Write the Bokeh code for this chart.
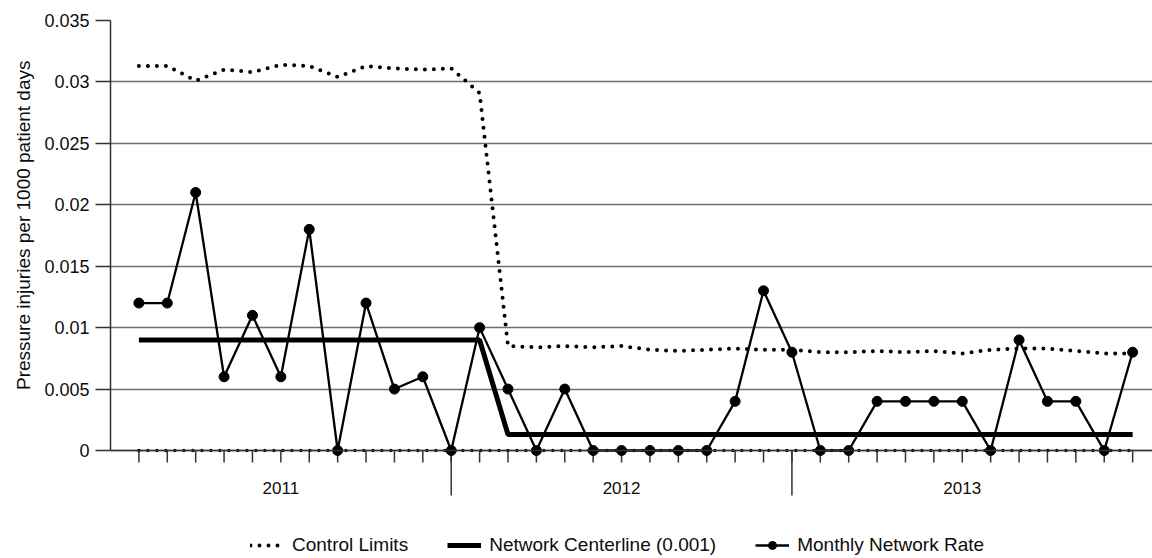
import math
from bokeh.plotting import figure
from bokeh.models import Range1d, FixedTicker, Legend, LegendItem, Span, Title
from bokeh.core.properties import value
from bokeh.embed import file_html
from bokeh.resources import INLINE

# ---- data ----
months = list(range(1, 37))
monthly_rate = [0.012, 0.012, 0.021, 0.006, 0.011, 0.006, 0.018, 0.0, 0.012, 0.005,
                0.006, 0.0, 0.010, 0.005, 0.0, 0.005, 0.0, 0.0, 0.0, 0.0,
                0.0, 0.004, 0.013, 0.008, 0.0, 0.0, 0.004, 0.004, 0.004, 0.004,
                0.0, 0.009, 0.004, 0.004, 0.0, 0.008]
centerline = [0.009, 0.009, 0.009, 0.009, 0.009, 0.009, 0.009, 0.009, 0.009, 0.009,
              0.009, 0.009, 0.009, 0.0013, 0.0013, 0.0013, 0.0013, 0.0013, 0.0013, 0.0013,
              0.0013, 0.0013, 0.0013, 0.0013, 0.0013, 0.0013, 0.0013, 0.0013, 0.0013, 0.0013,
              0.0013, 0.0013, 0.0013, 0.0013, 0.0013, 0.0013]
upper_limit = [0.0313, 0.0313, 0.0301, 0.0310, 0.0308, 0.0314, 0.0313, 0.0304, 0.0313, 0.0311,
               0.0310, 0.0311, 0.0291, 0.0085, 0.0084, 0.0085, 0.0084, 0.0085, 0.0082, 0.0081,
               0.0082, 0.0083, 0.0082, 0.0082, 0.0080, 0.0080, 0.0081, 0.0080, 0.0081, 0.0079,
               0.0082, 0.0083, 0.0083, 0.0081, 0.0079, 0.0079]
lower_limit = [0.0, 0.0, 0.0, 0.0, 0.0, 0.0, 0.0, 0.0, 0.0, 0.0,
               0.0, 0.0, 0.0, 0.0, 0.0, 0.0, 0.0, 0.0, 0.0, 0.0,
               0.0, 0.0, 0.0, 0.0, 0.0, 0.0, 0.0, 0.0, 0.0, 0.0,
               0.0, 0.0, 0.0, 0.0, 0.0, 0.0]
year_labels = ["2011", "2012", "2013"]
year_label_pos = [6, 18, 30]
year_breaks = [12, 24]
y_ticks = [0, 0.005, 0.01, 0.015, 0.02, 0.025, 0.03, 0.035]
y_tick_labels = ["0", "0.005", "0.01", "0.015", "0.02", "0.025", "0.03", "0.035"]
y_title = "Pressure injuries per 1000 patient days"

FONT = "Liberation Sans"
TXT = "#0d0d0d"
AX = "#333333"

# frame spans the whole lower area so the category axis and legend
# (drawn inside it) are not clipped; y = 0 sits at the baseline
p = figure(width=1152, height=558, output_backend="svg", toolbar_location=None,
           x_range=Range1d(0, 36.7), y_range=Range1d(-0.008791, 0.035),
           x_axis_location=None,
           min_border_left=110, min_border_right=0, min_border_top=20,
           min_border_bottom=0)
p.outline_line_color = None
p.background_fill_color = "white"
p.border_fill_color = "white"

p.xgrid.visible = False
p.ygrid.ticker = FixedTicker(ticks=y_ticks)
p.ygrid.grid_line_color = "#6e6e6e"
p.ygrid.grid_line_width = 1.6

yax = p.yaxis[0]
yax.ticker = FixedTicker(ticks=y_ticks)
yax.major_label_overrides = dict(zip(y_ticks, y_tick_labels))
yax.major_label_text_font = FONT
yax.major_label_text_font_size = "18px"
yax.major_label_text_color = TXT
yax.major_label_standoff = 6
yax.major_tick_out = 15
yax.major_tick_in = 0
yax.minor_tick_line_color = None
yax.axis_line_color = AX
yax.axis_line_width = 1.5
yax.major_tick_line_color = AX
yax.major_tick_line_width = 1.5
yax.bounds = (0, 0.035)

# y-axis title placed along the value range (0 .. 0.035)
p.add_layout(Title(text=y_title, align="right", offset=40, vertical_align="bottom",
                   standoff=16, text_font=FONT, text_font_size="19px",
                   text_font_style="normal", text_color=TXT), "left")

# category (month / year) axis drawn at y = 0
p.ray(x=months, y=0, length=12, length_units="screen", angle=-math.pi / 2,
      line_color=AX, line_width=1.5)
p.ray(x=year_breaks, y=0, length=45, length_units="screen", angle=-math.pi / 2,
      line_color=AX, line_width=1.5)
p.text(x=year_label_pos, y=0, text=year_labels, y_offset=32,
       text_align="center", text_baseline="top",
       text_font=value(FONT), text_font_size="17px", text_color=TXT)

ucl = p.line(months, upper_limit, line_color="black", line_width=4,
             line_dash="0 9", line_cap="round")
lcl = p.line(months, lower_limit, line_color="black", line_width=3.5,
             line_dash="0 9", line_cap="round")
cl = p.line(months, centerline, line_color="black", line_width=5)
mr_line = p.line(months, monthly_rate, line_color="black", line_width=2.3)
mr_pts = p.scatter(months, monthly_rate, size=10, color="black")

p.add_layout(Span(location=0, dimension="width", line_color=AX, line_width=1.5))

legend = Legend(items=[LegendItem(label="Control Limits", renderers=[ucl]),
                       LegendItem(label="Network Centerline (0.001)", renderers=[cl]),
                       LegendItem(label="Monthly Network Rate", renderers=[mr_line, mr_pts])],
                orientation="horizontal", location=(140, 2), margin=0, padding=0,
                spacing=39, glyph_width=34, glyph_height=20, label_standoff=8,
                label_text_font=FONT, label_text_font_size="19px",
                label_text_color=TXT, border_line_color=None,
                background_fill_alpha=0)
p.add_layout(legend, "center")

open("out.html", "w").write(file_html(p, INLINE))
